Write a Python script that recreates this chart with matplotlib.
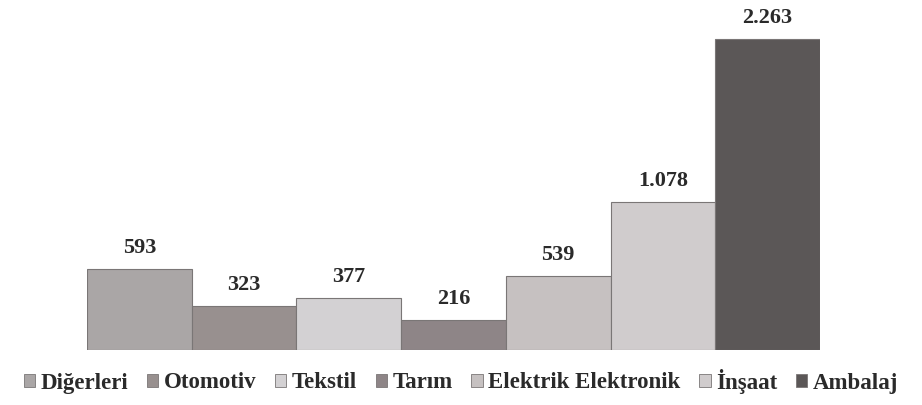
import matplotlib.pyplot as plt
from matplotlib.patches import Patch

categories = ["Diğerleri", "Otomotiv", "Tekstil", "Tarım", "Elektrik Elektronik", "İnşaat", "Ambalaj"]
values = [593, 323, 377, 216, 539, 1078, 2263]
labels = ["593", "323", "377", "216", "539", "1.078", "2.263"]
colors = ["#aaa6a6", "#98908f", "#d3d1d3", "#8e8587", "#c6c1c1", "#d0cccd", "#5b5757"]

plt.rcParams['font.family'] = ['Liberation Serif', 'DejaVu Serif']

fig = plt.figure(figsize=(9.22, 4.05), dpi=100)
ax = fig.add_axes([87/922, 55/405, (820-87)/922, 350/405])

x = range(len(values))
ax.bar(x, values, width=1.0, color=colors, edgecolor="#7a7676", linewidth=0.8)
for i, v in enumerate(values):
    ax.text(i, v + 80, labels[i], ha="center", va="bottom", fontsize=16,
            fontweight="bold", color="#2a2a2a")

ax.set_xlim(-0.5, 6.5)
ax.set_ylim(0, 2263 * 350 / 311)
ax.axis("off")

handles = [Patch(facecolor=c, edgecolor="#7a7676", linewidth=0.6) for c in colors]
fig.legend(handles, categories, loc="center", bbox_to_anchor=(0.5, 24/405), ncol=7,
           frameon=False, handlelength=0.5, handleheight=0.5, handletextpad=0.25,
           columnspacing=0.8, prop={"size": 16.5, "weight": "bold"}, labelcolor="#2a2a2a")

fig.savefig("out.png", dpi=100)
